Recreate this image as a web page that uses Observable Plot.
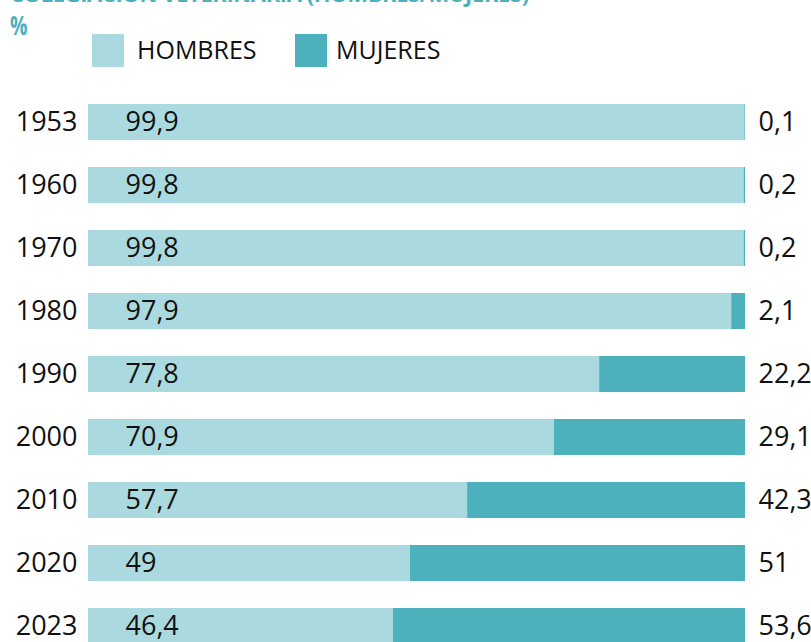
<!DOCTYPE html>
<html>
<head>
<meta charset="utf-8">
<script src="https://cdn.jsdelivr.net/npm/d3@7"></script>
<script src="https://cdn.jsdelivr.net/npm/@observablehq/plot@0.6"></script>
<style>
  body { margin: 0; background: #fff; font-family: "Open Sans", sans-serif; overflow: hidden; }
  #header { position: relative; width: 811px; height: 80px; overflow: hidden; }
  #title { position: absolute; left: 10px; top: -22px; font-weight: bold; font-size: 22px; color: #4db1bd; white-space: nowrap; letter-spacing: -0.4px; }
  #pct { position: absolute; left: 10px; top: 6px; font-weight: bold; font-size: 27px; color: #4db1bd; display: inline-block; transform: scaleX(0.72); transform-origin: left; }
  .sw { position: absolute; top: 34px; width: 32px; height: 33px; }
  .lg { position: absolute; top: 32px; font-size: 25px; color: #111; }
</style>
</head>
<body>
<div id="header">
  <div id="title">COLEGIACIÓN VETERINARIA (HOMBRES/MUJERES)</div>
  <div id="pct">%</div>
</div>
<div id="chart"></div>
<script>
const years = ["1953", "1960", "1970", "1980", "1990", "2000", "2010", "2020", "2023"];
const hombres = [99.9, 99.8, 99.8, 97.9, 77.8, 70.9, 57.7, 49, 46.4];
const mujeres = [0.1, 0.2, 0.2, 2.1, 22.2, 29.1, 42.3, 51, 53.6];
const hombresLabels = ["99,9", "99,8", "99,8", "97,9", "77,8", "70,9", "57,7", "49", "46,4"];
const mujeresLabels = ["0,1", "0,2", "0,2", "2,1", "22,2", "29,1", "42,3", "51", "53,6"];
const series = ["HOMBRES", "MUJERES"];
const colors = ["#aadadf", "#4db1bd"];

// legend
const header = document.getElementById("header");
const legendPos = [[92, 137], [295, 336]];
series.forEach((s, i) => {
  const sw = document.createElement("div");
  sw.className = "sw";
  sw.style.left = legendPos[i][0] + "px";
  sw.style.background = colors[i];
  header.appendChild(sw);
  const t = document.createElement("div");
  t.className = "lg";
  t.style.left = legendPos[i][1] + "px";
  t.textContent = s;
  header.appendChild(t);
});

const rows = [];
years.forEach((y, i) => {
  rows.push({year: y, sex: "HOMBRES", value: hombres[i]});
  rows.push({year: y, sex: "MUJERES", value: mujeres[i]});
});
const labels = years.map((y, i) => ({year: y, h: hombresLabels[i], m: mujeresLabels[i]}));

const chart = Plot.plot({
  width: 811,
  height: 620,
  marginLeft: 88,
  marginRight: 66,
  marginTop: 0,
  marginBottom: 0,
  style: {background: "transparent", fontFamily: "'Open Sans', sans-serif", fontSize: "27px"},
  x: {domain: [0, 100], axis: null},
  y: {domain: years, range: [-5, 592.75], padding: 0.432, axis: null},
  color: {domain: series, range: colors},
  marks: [
    Plot.barX(rows, {x: "value", y: "year", fill: "sex"}),
    Plot.text(labels, {x: 0, y: "year", text: "year", textAnchor: "end", dx: -11, fill: "#111", fontSize: 27}),
    Plot.text(labels, {x: 0, y: "year", text: "h", textAnchor: "start", dx: 37, fill: "#111", fontSize: 27}),
    Plot.text(labels, {x: 100, y: "year", text: "m", textAnchor: "start", dx: 13, fill: "#111", fontSize: 27})
  ]
});
document.getElementById("chart").appendChild(chart);
</script>
</body>
</html>
